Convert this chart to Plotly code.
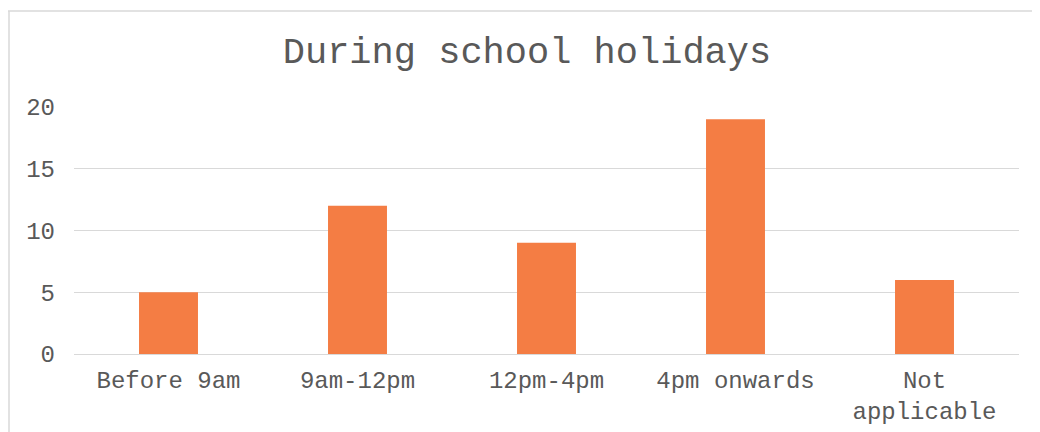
import plotly.graph_objects as go

categories = ["Before 9am", "9am-12pm", "12pm-4pm", "4pm onwards", "Not<br>applicable"]
values = [5, 12, 9, 19, 6]
y_ticks = [0, 5, 10, 15, 20]

# page has an 8px body margin; figure sized to fit the 1040x432 window
W, H = 1032, 424
L, R, T, B = 66, 21, 99, 78
pw, ph = W - L - R, H - T - B

fig = go.Figure(go.Bar(x=categories, y=values, marker=dict(color="#F47D44", line=dict(width=0)),
                       width=0.312))

font = "Liberation Mono, Courier New, monospace"
fig.update_layout(
    width=W, height=H,
    margin=dict(l=L, r=R, t=T, b=B),
    paper_bgcolor="white", plot_bgcolor="white",
    showlegend=False,
    title=dict(text="During school holidays", x=(527 - 8) / W, xanchor="center", y=1 - 42 / H,
               yanchor="middle", font=dict(family=font, size=37, color="#595959")),
    xaxis=dict(showgrid=False, tickfont=dict(family=font, size=24, color="#595959"), ticks="",
               showline=False, ticklabelstandoff=9, automargin=False),
    yaxis=dict(range=[0, 20], tickvals=y_ticks, gridcolor="#d9d9d9", gridwidth=1, zeroline=True,
               zerolinecolor="#d9d9d9", zerolinewidth=1, automargin=False,
               tickfont=dict(family=font, size=24, color="#595959"), ticks="", ticklabelstandoff=18),
    bargap=0.688,
)
# chart border (top and left edges visible)
fig.add_shape(type="line", xref="paper", yref="paper", x0=(0 - L) / pw, x1=(W + 5 - L) / pw,
              y0=1 + (T - 3) / ph, y1=1 + (T - 3) / ph, line=dict(color="#d9d9d9", width=1.5))
fig.add_shape(type="line", xref="paper", yref="paper", x0=(1 - L) / pw, x1=(1 - L) / pw,
              y0=1 + (T - 3) / ph, y1=-(B + 5) / ph, line=dict(color="#d9d9d9", width=1.5))
fig.write_html("out.html")
